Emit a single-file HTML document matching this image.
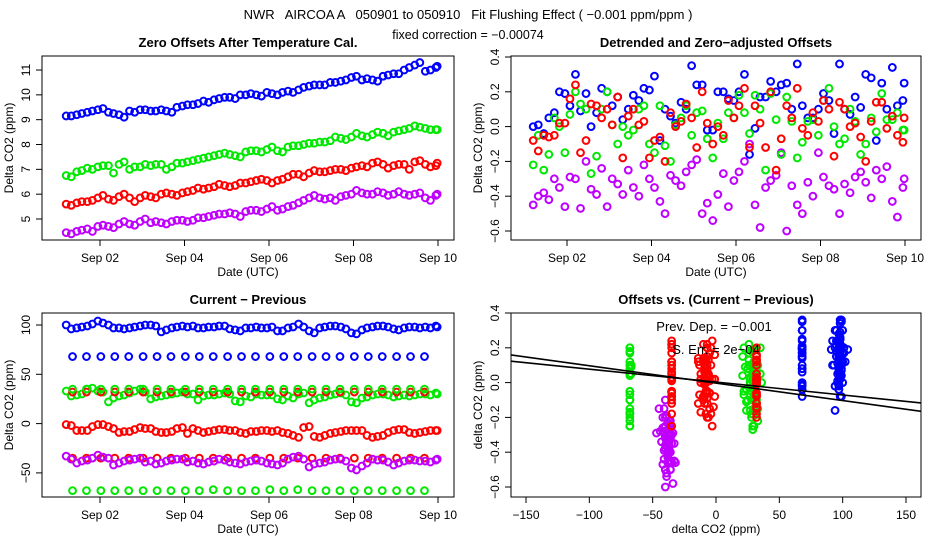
<!DOCTYPE html>
<html><head><meta charset="utf-8">
<style>
body{margin:0;background:#fff;}
svg{display:block;font-family:"Liberation Sans",sans-serif;}
</style></head>
<body>
<svg id="c" width="936" height="540" viewBox="0 0 936 540" xmlns="http://www.w3.org/2000/svg">
<rect width="936" height="540" fill="#fff"/>
<text x="468" y="19" font-size="13" text-anchor="middle" xml:space="preserve">NWR   AIRCOA A   050901 to 050910   Fit Flushing Effect ( −0.001 ppm/ppm )</text>
<text x="468" y="39" font-size="12.5" text-anchor="middle">fixed correction = −0.00074</text>
</svg>
<script>
// ---- data ----
const times = [1.2,1.45,1.7,1.95,2.2,2.45,2.7,2.95,3.2,3.45,3.7,3.95,4.2,4.45,4.7,4.95,5.2,5.45,5.7,5.95,6.2,6.45,6.7,6.95,7.2,7.45,7.7,7.95,8.2,8.45,8.7,8.95,9.2,9.45,9.7,9.95];
const times2 = [1.32,1.57,1.82,2.07,2.32,2.57,2.82,3.07,3.32,3.57,3.82,4.07,4.32,4.57,4.82,5.07,5.32,5.57,5.82,6.07,6.32,6.57,6.82,7.07,7.32,7.57,7.82,8.07,8.32,8.57,8.82,9.07,9.32,9.57,9.82,9.98];
const dotTimes = [1.35,1.68,2.02,2.35,2.68,3.02,3.35,3.68,4.02,4.35,4.68,5.02,5.35,5.68,6.02,6.35,6.68,7.02,7.35,7.68,8.02,8.35,8.68,9.02,9.35,9.68];
// panel 1: zero offsets
const p1Blue = [9.15,9.2,9.3,9.4,9.3,9.2,9.35,9.4,9.35,9.4,9.3,9.55,9.6,9.75,9.8,9.9,9.85,10.0,10.0,10.1,10.0,10.15,10.2,10.35,10.4,10.5,10.55,10.7,10.6,10.6,10.75,10.85,11.0,11.2,10.95,11.1];
const p1Blue2 = [9.15,9.25,9.35,9.45,9.25,9.1,9.3,9.4,9.35,9.35,9.5,9.6,9.65,9.7,9.85,9.9,10.0,10.05,9.95,10.05,10.1,10.1,10.3,10.4,10.4,10.5,10.6,10.75,10.65,10.55,10.8,10.85,11.1,11.3,11.0,11.15];
const p1Green = [6.75,6.9,7.05,7.1,7.15,7.2,7.0,7.1,7.15,7.2,7.1,7.25,7.35,7.45,7.55,7.65,7.55,7.7,7.75,7.8,7.75,7.9,7.95,8.05,8.1,8.15,8.25,8.3,8.35,8.4,8.45,8.5,8.6,8.75,8.65,8.6];
const p1Green2 = [6.7,6.95,7.0,7.15,6.85,7.3,7.1,7.2,7.2,7.0,7.25,7.3,7.4,7.5,7.6,7.6,7.5,7.75,7.7,7.9,7.7,7.95,8.0,8.05,8.1,8.3,8.2,8.45,8.3,8.5,8.35,8.55,8.65,8.7,8.6,8.6];
const p1Red = [5.6,5.65,5.7,5.85,5.8,5.9,5.85,5.85,5.9,6.0,6.0,6.05,6.15,6.2,6.3,6.35,6.35,6.45,6.55,6.55,6.55,6.7,6.8,6.85,6.9,6.95,7.0,7.05,7.15,7.25,7.2,7.15,7.2,7.3,7.2,7.15];
const p1Red2 = [5.55,5.7,5.75,5.95,5.75,6.0,5.7,5.95,5.85,6.05,5.95,6.1,6.25,6.25,6.4,6.3,6.45,6.5,6.6,6.45,6.6,6.8,6.7,6.95,6.9,7.0,6.95,7.1,7.1,7.3,7.05,7.2,7.0,7.35,7.1,7.25];
const p1Purple = [4.45,4.5,4.6,4.7,4.7,4.8,4.8,4.9,4.85,4.85,4.9,4.95,4.95,5.05,5.15,5.2,5.2,5.3,5.35,5.4,5.35,5.5,5.65,5.85,5.85,5.85,5.9,6.0,6.05,6.0,6.05,6.0,6.0,6.0,5.85,5.95];
const p1Purple2 = [4.4,4.55,4.5,4.75,4.65,4.9,4.75,5.0,4.9,4.8,4.95,4.9,5.05,5.1,5.2,5.25,5.1,5.35,5.3,5.5,5.4,5.55,5.75,5.95,5.8,5.75,5.95,6.15,6.0,6.1,5.95,6.1,5.95,6.05,5.75,6.0];
// panel 2: detrended
const p2Blue = [0.0,-0.04,0.08,0.19,0.3,0.19,0.08,0.2,0.17,0.1,0.15,0.21,-0.08,0.06,0.14,0.35,0.24,-0.02,0.2,0.15,0.3,-0.01,0.17,0.2,0.25,0.36,0.05,0.1,0.15,0.36,0.07,0.11,0.28,0.25,0.34,0.15];
const p2Blue2 = [0.01,0.05,0.2,0.12,0.09,0.0,0.22,0.12,0.04,0.18,0.22,0.29,0.1,0.02,0.1,0.24,-0.02,0.2,0.16,0.2,-0.16,0.17,0.26,0.24,0.1,0.12,0.05,0.19,-0.04,0.1,0.17,0.3,-0.08,0.1,0.12,0.25];
const p2Red = [-0.08,-0.05,-0.05,0.02,0.24,-0.08,0.12,0.1,0.17,0.06,0.01,-0.18,-0.06,0.08,0.03,0.05,0.2,-0.1,-0.05,0.05,0.22,0.12,-0.12,-0.25,0.12,0.22,-0.05,0.03,0.1,0.14,0.0,-0.06,0.03,0.14,0.06,-0.09];
const p2Red2 = [-0.14,-0.06,0.02,0.16,-0.15,0.13,0.05,0.01,-0.18,0.1,0.03,-0.08,-0.2,0.0,0.13,-0.12,0.02,0.0,0.15,0.12,-0.12,0.02,0.2,-0.07,0.05,-0.01,0.08,0.15,-0.17,0.1,0.02,-0.2,0.14,-0.01,-0.05,0.05];
const p2Green = [-0.22,-0.25,0.05,-0.15,0.2,0.1,-0.17,0.2,-0.1,-0.05,0.1,-0.1,0.12,-0.2,0.05,-0.05,0.09,-0.18,-0.07,0.05,0.08,0.18,-0.25,0.04,0.17,-0.18,0.03,-0.05,0.22,-0.1,0.1,-0.16,0.05,0.19,0.04,-0.02];
const p2Green2 = [-0.05,-0.16,0.0,0.07,0.13,-0.27,0.1,0.01,0.0,-0.02,0.12,-0.15,-0.11,0.01,0.12,0.08,-0.07,0.02,0.08,0.18,-0.04,0.1,0.19,-0.16,0.03,-0.09,0.04,0.15,0.0,-0.07,0.03,-0.1,-0.03,0.04,0.08,-0.02];
const p2Purple = [-0.45,-0.38,-0.3,-0.46,-0.3,-0.2,-0.39,-0.46,-0.33,-0.25,-0.4,-0.3,-0.43,-0.28,-0.34,-0.22,-0.5,-0.54,-0.27,-0.31,-0.2,-0.45,-0.35,-0.28,-0.6,-0.45,-0.32,-0.15,-0.34,-0.5,-0.38,-0.26,-0.41,-0.3,-0.43,-0.35];
const p2Purple2 = [-0.4,-0.42,-0.35,-0.29,-0.47,-0.36,-0.24,-0.3,-0.39,-0.35,-0.22,-0.35,-0.5,-0.31,-0.26,-0.19,-0.44,-0.39,-0.46,-0.26,-0.1,-0.58,-0.31,-0.15,-0.34,-0.5,-0.4,-0.29,-0.36,-0.33,-0.29,-0.32,-0.25,-0.23,-0.52,-0.3];
// panel 3: current - previous
const p3Blue = [100,97,99,104,100,97,97,99,100,93,97,99,99,97,98,99,95,97,98,97,94,97,101,94,97,99,98,92,95,98,99,96,97,98,98,99];
const p3Blue2 = [96,98,101,102,97,96,98,100,99,95,98,98,97,98,99,96,94,97,97,98,94,98,98,92,98,99,96,91,97,99,98,95,98,97,97,98];
const p3Green = [33,29,35,33,22,28,31,35,25,28,30,32,30,28,29,31,23,28,30,29,25,28,30,21,26,29,31,22,26,29,30,27,29,29,30,31];
const p3Green2 = [28,30,36,32,26,29,33,32,27,29,31,30,24,29,30,30,22,27,29,29,24,26,31,24,27,30,29,21,27,30,29,28,28,30,29,30];
const p3Red = [-1,-7,-7,-1,-3,-9,-8,-4,-5,-9,-8,-4,-5,-9,-7,-6,-7,-10,-8,-7,-7,-10,-14,-3,-14,-10,-8,-7,-7,-14,-12,-7,-6,-10,-8,-7];
const p3Red2 = [-2,-7,-3,-1,-5,-8,-6,-5,-8,-9,-5,-10,-7,-8,-6,-7,-9,-8,-7,-8,-9,-12,-4,-13,-12,-9,-7,-7,-12,-13,-9,-6,-9,-9,-7,-7];
const p3Purple = [-33,-40,-37,-32,-35,-40,-37,-35,-38,-40,-37,-36,-38,-41,-38,-37,-40,-39,-37,-40,-42,-36,-33,-44,-40,-37,-36,-45,-43,-36,-37,-42,-38,-37,-38,-37];
const p3Purple2 = [-36,-38,-35,-34,-42,-38,-36,-39,-41,-38,-36,-39,-40,-39,-36,-39,-41,-38,-38,-41,-40,-34,-36,-41,-39,-36,-38,-47,-40,-37,-39,-40,-37,-38,-39,-36];
const dotBlue = [68,68,68,68,68,68,68,68,68,68,68,68,68,68,68,68,68,68,68,68,68,68,68,68,68,68];
const dotRedHi = [32,32,32,32,32,32,32,32,32,32,32,32,32,32,32,32,32,32,32,32,32,32,32,32,32,32];
const dotRedLo = [-35,-35,-35,-35,-35,-35,-35,-35,-35,-35,-35,-35,-35,-35,-35,-35,-35,-35,-35,-35,-35,-35,-35,-35,-35,-35];
const dotGreenHi = [35,35,35,35,35,35,35,35,35,35,35,35,35,35,35,35,35,35,35,35,35,35,35,35,35,35];
const dotGreenLo = [-68,-68,-68,-68,-68,-68,-68,-68,-68,-68,-67,-68,-68,-68,-67,-68,-67,-68,-68,-68,-68,-68,-68,-68,-68,-68];
// panel 4 fit lines
const fitSlopes = [-0.001,-0.00074];
const fitIntercepts = [-0.003,0.003];
// ticks
const dayTicks = [2,4,6,8,10];
const dayLabels = ["Sep 02","Sep 04","Sep 06","Sep 08","Sep 10"];
const p1YTicks = [5,6,7,8,9,10,11];
const p2YTicks = [-0.6,-0.4,-0.2,0.0,0.2,0.4];
const p2YLabels = ["−0.6","−0.4","−0.2","0.0","0.2","0.4"];
const p3YTicks = [-50,0,50,100];
const p3YLabels = ["−50","0","50","100"];
const p4XTicks = [-150,-100,-50,0,50,100,150];
const p4XLabels = ["−150","−100","−50","0","50","100","150"];

const BLUE="#0000ff",RED="#ff0000",GREEN="#00e800",PURPLE="#c000ff";
const svg=document.getElementById('c');
const NS="http://www.w3.org/2000/svg";
function mk(tag,attrs,parent){const e=document.createElementNS(NS,tag);for(const k in attrs)e.setAttribute(k,attrs[k]);(parent||svg).appendChild(e);return e;}

function panel(name,box,xs,ys,title,xt,xl,yt,yl,xTitle,yTitle){
  const g=mk('g',{});
  
  
  const r=mk('rect',{x:box[0],y:box[1],width:box[2]-box[0],height:box[3]-box[1],fill:'none',stroke:'#000','stroke-width':1},g);
  
  
  const t=mk('text',{x:(box[0]+box[2])/2,y:box[1]-9,'font-size':13,'font-weight':'bold','text-anchor':'middle'},g);
  t.textContent=title;
  
  
  xt.forEach((v,i)=>{const x=xs(v);
    mk('line',{x1:x,x2:x,y1:box[3],y2:box[3]+6,stroke:'#000'},g);
    const l=mk('text',{x:x,y:box[3]+22,'font-size':12,'text-anchor':'middle'},g);l.textContent=xl[i];
    
    });
  yt.forEach((v,i)=>{const y=ys(v);
    mk('line',{x1:box[0]-6,x2:box[0],y1:y,y2:y,stroke:'#000'},g);
    const l=mk('text',{x:0,y:0,'font-size':12,'text-anchor':'middle',transform:`translate(${box[0]-12},${y}) rotate(-90)`},g);l.textContent=yl[i];
    
    });
  const xa=mk('text',{x:(box[0]+box[2])/2,y:box[3]+36,'font-size':12,'text-anchor':'middle'},g);xa.textContent=xTitle;
  
  
  const ya=mk('text',{x:0,y:0,'font-size':12,'text-anchor':'middle',transform:`translate(${box[0]-29},${(box[1]+box[3])/2}) rotate(-90)`},g);ya.textContent=yTitle;
  
  
  return g;
}
function pts(g,name,xv,yv,xs,ys,color){
  const s=mk('g',{fill:'none',stroke:color,'stroke-width':2},g);
  
  
  for(let i=0;i<xv.length&&i<yv.length;i++){
    const c=mk('circle',{cx:xs(xv[i]),cy:ys(yv[i]),r:3.4},s);
    
    
  }
}
const tX1=t=>100+(t-2)*42.25;
const tX2=t=>567+(t-2)*42.25;
const y1=v=>219-(v-5)*24.83;
const y2=v=>126.6-v*174;
const y3=v=>423.6-v*0.986;
const x4=v=>716+v*1.2667;
const y4=v=>382.6-v*174;

const g1=panel('zero-offsets-panel',[42,56,454,240],tX1,y1,'Zero Offsets After Temperature Cal.',dayTicks,dayLabels,p1YTicks,p1YTicks.map(String),'Date (UTC)','Delta CO2 (ppm)');
pts(g1,'blue-series',times,p1Blue,tX1,y1,BLUE);
pts(g1,'blue-series-b',times2,p1Blue2,tX1,y1,BLUE);
pts(g1,'green-series',times,p1Green,tX1,y1,GREEN);
pts(g1,'green-series-b',times2,p1Green2,tX1,y1,GREEN);
pts(g1,'red-series',times,p1Red,tX1,y1,RED);
pts(g1,'red-series-b',times2,p1Red2,tX1,y1,RED);
pts(g1,'purple-series',times,p1Purple,tX1,y1,PURPLE);
pts(g1,'purple-series-b',times2,p1Purple2,tX1,y1,PURPLE);

const g2=panel('detrended-panel',[511,56,921,240],tX2,y2,'Detrended and Zero−adjusted Offsets',dayTicks,dayLabels,p2YTicks,p2YLabels,'Date (UTC)','Delta CO2 (ppm)');
pts(g2,'purple-series',times,p2Purple,tX2,y2,PURPLE);
pts(g2,'purple-series-b',times2,p2Purple2,tX2,y2,PURPLE);
pts(g2,'blue-series',times,p2Blue,tX2,y2,BLUE);
pts(g2,'blue-series-b',times2,p2Blue2,tX2,y2,BLUE);
pts(g2,'green-series',times,p2Green,tX2,y2,GREEN);
pts(g2,'green-series-b',times2,p2Green2,tX2,y2,GREEN);
pts(g2,'red-series',times,p2Red,tX2,y2,RED);
pts(g2,'red-series-b',times2,p2Red2,tX2,y2,RED);

const g3=panel('current-previous-panel',[42,313,454,497],tX1,y3,'Current − Previous',dayTicks,dayLabels,p3YTicks,p3YLabels,'Date (UTC)','Delta CO2 (ppm)');
pts(g3,'blue-series',times,p3Blue,tX1,y3,BLUE);
pts(g3,'blue-series-b',times2,p3Blue2,tX1,y3,BLUE);
pts(g3,'blue-dots',dotTimes,dotBlue,tX1,y3,BLUE);
pts(g3,'green-series',times,p3Green,tX1,y3,GREEN);
pts(g3,'green-series-b',times2,p3Green2,tX1,y3,GREEN);
pts(g3,'red-dots-high',dotTimes,dotRedHi,tX1,y3,RED);
pts(g3,'green-dots-high',dotTimes,dotGreenHi,tX1,y3,GREEN);
pts(g3,'red-series',times,p3Red,tX1,y3,RED);
pts(g3,'red-series-b',times2,p3Red2,tX1,y3,RED);
pts(g3,'red-dots-low',dotTimes,dotRedLo,tX1,y3,RED);
pts(g3,'purple-series',times,p3Purple,tX1,y3,PURPLE);
pts(g3,'purple-series-b',times2,p3Purple2,tX1,y3,PURPLE);
pts(g3,'green-dots-low',dotTimes,dotGreenLo,tX1,y3,GREEN);

const g4=panel('offsets-vs-diff-panel',[511,313,921,497],x4,y4,'Offsets vs. (Current − Previous)',p4XTicks,p4XLabels,p2YTicks,p2YLabels,'delta CO2 (ppm)','delta CO2 (ppm)');
pts(g4,'green-dots-low',dotGreenLo,p2Green,x4,y4,GREEN);
pts(g4,'purple-series',p3Purple,p2Purple,x4,y4,PURPLE);
pts(g4,'purple-series-b',p3Purple2,p2Purple2,x4,y4,PURPLE);
pts(g4,'red-dots-low',dotRedLo,p2Red,x4,y4,RED);
pts(g4,'red-series',p3Red,p2Red,x4,y4,RED);
pts(g4,'red-series-b',p3Red2,p2Red2,x4,y4,RED);
pts(g4,'green-series',p3Green,p2Green,x4,y4,GREEN);
pts(g4,'green-series-b',p3Green2,p2Green2,x4,y4,GREEN);
pts(g4,'red-dots-high',dotRedHi,p2Red2,x4,y4,RED);
pts(g4,'blue-dots',dotBlue,p2Blue,x4,y4,BLUE);
pts(g4,'blue-series',p3Blue,p2Blue,x4,y4,BLUE);
pts(g4,'blue-series-b',p3Blue2,p2Blue2,x4,y4,BLUE);
const clip=mk('clipPath',{id:'cp4'});
mk('rect',{x:511,y:313,width:410,height:184},clip);
fitSlopes.forEach((m,i)=>{
  const xa=-162,xb=162;
  const l=mk('line',{x1:x4(xa),y1:y4(fitIntercepts[i]+m*xa),x2:x4(xb),y2:y4(fitIntercepts[i]+m*xb),stroke:'#000','stroke-width':1.6,'clip-path':'url(#cp4)'},g4);
  
  
});
const a1=mk('text',{x:714,y:331,'font-size':13,'text-anchor':'middle','xml:space':'preserve'},g4);
a1.textContent='Prev. Dep. =  −0.001';


const a2=mk('text',{x:716,y:354,'font-size':13,'text-anchor':'middle'},g4);
a2.textContent='S. Err. =  2e−04';


</script>
</body></html>
